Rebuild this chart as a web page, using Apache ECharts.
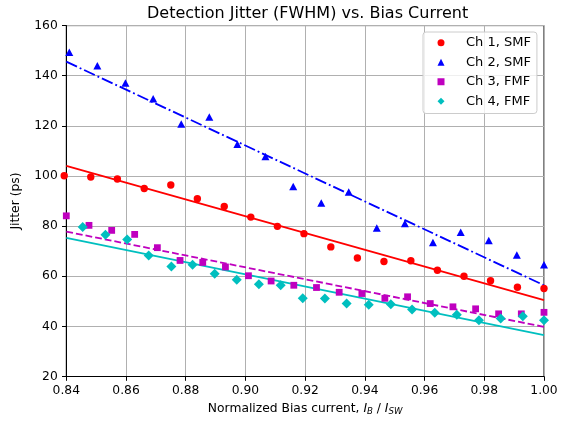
<!DOCTYPE html>
<html><head><meta charset="utf-8">
<script src="https://cdn.jsdelivr.net/npm/echarts@6/dist/echarts.min.js"></script>
<style>html,body{margin:0;padding:0;background:#fff}#c{width:569px;height:421px}</style>
</head><body><div id="c"></div>
<script>
const ch1X = [0.8393, 0.8482, 0.8571, 0.8661, 0.8750, 0.8839, 0.8929, 0.9018, 0.9107, 0.9196, 0.9286, 0.9375, 0.9464, 0.9554, 0.9643, 0.9732, 0.9821, 0.9911, 1.0000];
const ch1Y = [100.1, 99.6, 98.8, 95.0, 96.4, 90.9, 87.8, 83.6, 79.9, 77.0, 71.7, 67.3, 65.9, 66.2, 62.4, 60.0, 58.2, 55.6, 55.1];
const ch2X = [0.8410, 0.8504, 0.8598, 0.8691, 0.8785, 0.8879, 0.8973, 0.9067, 0.9160, 0.9254, 0.9346, 0.9440, 0.9534, 0.9628, 0.9721, 0.9815, 0.9909, 1.0000];
const ch2Y = [149.4, 144.0, 137.1, 130.8, 120.7, 123.5, 112.7, 107.8, 95.8, 89.2, 93.6, 79.2, 81.0, 73.5, 77.6, 74.3, 68.5, 64.6];
const ch3X = [0.8400, 0.8476, 0.8552, 0.8629, 0.8705, 0.8781, 0.8857, 0.8933, 0.9010, 0.9086, 0.9162, 0.9238, 0.9314, 0.9390, 0.9467, 0.9543, 0.9619, 0.9695, 0.9771, 0.9848, 0.9924, 1.0000];
const ch3Y = [84.1, 80.3, 78.3, 76.7, 71.4, 66.3, 65.5, 63.7, 60.2, 58.1, 56.4, 55.5, 53.6, 53.1, 51.2, 51.8, 49.1, 47.8, 47.0, 45.0, 45.0, 45.6];
const ch4X = [0.8455, 0.8531, 0.8604, 0.8676, 0.8752, 0.8823, 0.8897, 0.8971, 0.9045, 0.9118, 0.9192, 0.9266, 0.9339, 0.9413, 0.9487, 0.9558, 0.9634, 0.9708, 0.9782, 0.9855, 0.9929, 1.0000];
const ch4Y = [79.6, 76.6, 74.7, 68.3, 63.9, 64.6, 61.0, 58.6, 56.8, 56.4, 51.2, 51.1, 49.1, 48.6, 48.8, 46.7, 45.4, 44.6, 42.4, 43.1, 44.0, 42.4];
const fitX = [0.84, 1.00];
const fit1Y = [104.0, 50.5];
const fit2Y = [145.6, 56.4];
const fit3Y = [77.8, 39.8];
const fit4Y = [75.3, 36.5];
const names = ['Ch 1, SMF', 'Ch 2, SMF', 'Ch 3, FMF', 'Ch 4, FMF'];
const xTicks = [0.84, 0.86, 0.88, 0.90, 0.92, 0.94, 0.96, 0.98, 1.00];
const yTicks = [20, 40, 60, 80, 100, 120, 140, 160];

const FONT = 'DejaVu Sans';
const FS = 12.3;
const colors = ['#ff0000', '#0000ff', '#bf00bf', '#00bfbf'];
function pairs(xs, ys) { return xs.map((x, i) => [x, ys[i]]); }

const chart = echarts.init(document.getElementById('c'), null, {renderer: 'canvas'});
const scatterDefs = [
  {x: ch1X, y: ch1Y, sym: 'circle', size: 7.4},
  {x: ch2X, y: ch2Y, sym: 'triangle', size: [8, 7.5]},
  {x: ch3X, y: ch3Y, sym: 'rect', size: 6.8},
  {x: ch4X, y: ch4Y, sym: 'diamond', size: 10}
];
const fits = [
  {y: fit1Y, type: 'solid'},
  {y: fit2Y, type: [11.8, 3, 1.85, 3]},
  {y: fit3Y, type: [6.8, 3]},
  {y: fit4Y, type: 'solid'}
];
const series = [];
fits.forEach((f, i) => {
  series.push({
    type: 'line', name: 'fit' + i, data: pairs(fitX, f.y), showSymbol: false, symbol: 'none',
    lineStyle: {color: colors[i], width: 1.85, type: f.type}, z: 2, silent: true, animation: false
  });
});
scatterDefs.forEach((s, i) => {
  series.push({
    type: 'scatter', name: names[i], data: pairs(s.x, s.y), symbol: s.sym, symbolSize: s.size,
    itemStyle: {color: colors[i], opacity: 1}, clip: false, z: 3, animation: false
  });
});

chart.setOption({
  animation: false,
  title: {
    text: 'Detection Jitter (FWHM) vs. Bias Current',
    left: 142, top: 1,
    textStyle: {fontFamily: FONT, fontSize: 16, fontWeight: 'normal', color: '#000'}
  },
  legend: {
    data: names.map((n, i) => ({name: n, icon: scatterDefs[i].sym})),
    orient: 'vertical', left: 423, top: 32,
    itemWidth: 7, itemHeight: 7, itemGap: 5,
    padding: [3.5, 6, 5, 14.5],
    backgroundColor: 'rgba(255,255,255,0.8)', borderColor: '#cccccc', borderWidth: 1, borderRadius: 3,
    textStyle: {fontFamily: FONT, fontSize: 13, color: '#000', lineHeight: 14.5, padding: [0, 0, 0, 16.5]}
  },
  grid: {left: 66.3, right: 25, top: 25.6, bottom: 44, show: true, borderColor: '#000', borderWidth: 1, backgroundColor: 'transparent'},
  xAxis: {
    type: 'value', min: 0.84, max: 1.0, interval: 0.02,
    name: 'Normalized Bias current, {i|I}{s|B} / {i|I}{s|SW}',
    nameLocation: 'middle', nameGap: 25.5,
    nameTextStyle: {fontFamily: FONT, fontSize: FS, color: '#000',
      rich: {
        i: {fontFamily: FONT, fontSize: FS, fontStyle: 'italic', color: '#000'},
        s: {fontFamily: FONT, fontSize: 8.6, fontStyle: 'italic', color: '#000', verticalAlign: 'bottom', padding: [5, 0, 0, 0]}
      }},
    axisLine: {show: true, onZero: false, lineStyle: {color: '#000', width: 1}},
    axisTick: {show: true, inside: false, length: 4.3, lineStyle: {color: '#000', width: 1}},
    axisLabel: {fontFamily: FONT, fontSize: FS, color: '#000', margin: 8, showMinLabel: true, showMaxLabel: true,
      formatter: v => v.toFixed(2)},
    splitLine: {show: true, lineStyle: {color: '#b0b0b0', width: 1}}
  },
  yAxis: {
    type: 'value', min: 20, max: 160, interval: 20,
    name: 'Jitter (ps)', nameLocation: 'middle', nameGap: 44,
    nameTextStyle: {fontFamily: FONT, fontSize: FS, color: '#000'},
    axisLine: {show: true, onZero: false, lineStyle: {color: '#000', width: 1}},
    axisTick: {show: true, inside: false, length: 4.3, lineStyle: {color: '#000', width: 1}},
    axisLabel: {fontFamily: FONT, fontSize: FS, color: '#000', margin: 8.6},
    splitLine: {show: true, lineStyle: {color: '#b0b0b0', width: 1}}
  },
  series: series
});
</script>
</body></html>
